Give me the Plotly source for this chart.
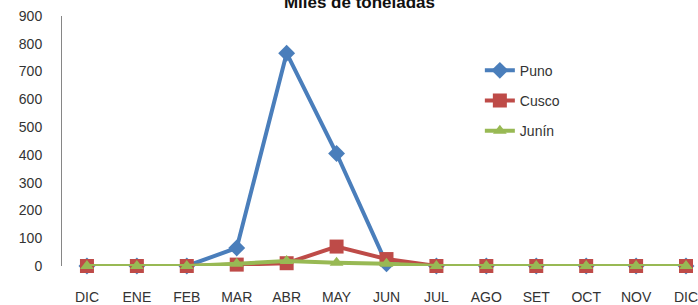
import plotly.graph_objects as go

months = ["DIC", "ENE", "FEB", "MAR", "ABR", "MAY", "JUN", "JUL", "AGO", "SET", "OCT", "NOV", "DIC"]
puno = [0, 0, 0, 65, 766, 405, 8, 0, 0, 0, 0, 0, 0]
cusco = [0, 0, 0, 5, 10, 70, 25, 0, 0, 0, 0, 0, 0]
junin = [0, 0, 0, 8, 18, 12, 8, 0, 0, 0, 0, 0, 0]
yticks = [0, 100, 200, 300, 400, 500, 600, 700, 800, 900]

xpos = list(range(len(months)))

fig = go.Figure()
fig.add_trace(go.Scatter(x=xpos, y=puno, name="Puno", mode="lines+markers",
                         line=dict(color="#4A7EBB", width=4),
                         marker=dict(symbol="diamond", size=13, color="#4A7EBB"),
                         legendgroup="a", cliponaxis=False))
fig.add_trace(go.Scatter(x=xpos, y=cusco, name="Cusco", mode="lines+markers",
                         line=dict(color="#BE4B48", width=4),
                         marker=dict(symbol="square", size=14, color="#BE4B48"),
                         legendgroup="b", cliponaxis=False))
fig.add_trace(go.Scatter(x=xpos, y=junin, name="Junín", mode="lines+markers",
                         line=dict(color="#98B954", width=4),
                         marker=dict(symbol="triangle-up", size=12, color="#98B954"),
                         legendgroup="c", cliponaxis=False))

fig.update_layout(
    width=698, height=305,
    margin=dict(l=62, r=0, t=16, b=39),
    paper_bgcolor="white", plot_bgcolor="white",
    font=dict(family="Arial, Liberation Sans, sans-serif", size=14, color="#333333"),
    title=dict(text="<b>Miles de toneladas</b>", x=0.515, xanchor="center",
               y=1.0, yanchor="top", yref="container", pad=dict(t=-4),
               font=dict(size=17, color="#111111")),
    showlegend=True,
    legend=dict(x=0.657, y=0.845, xanchor="left", yanchor="top",
                bgcolor="rgba(0,0,0,0)", tracegroupgap=9,
                font=dict(size=14, color="#333333")),
    xaxis=dict(tickmode="array", tickvals=xpos, ticktext=months,
               range=[-0.5, 12.24], showgrid=False, zeroline=False,
               showline=False, ticks="outside", ticklen=18, tickcolor="rgba(0,0,0,0)",
               automargin=False, ticklabeloverflow="allow", tickfont=dict(size=14)),
    yaxis=dict(tickmode="array", tickvals=yticks, range=[0, 900],
               showgrid=False, zeroline=False, showline=True,
               linecolor="#868686", linewidth=1, ticks="outside", ticklen=16,
               tickcolor="rgba(0,0,0,0)", automargin=False,
               tickfont=dict(size=14)),
)

fig.write_html("out.html", config={"displayModeBar": False},
               post_script="document.body.style.margin='0';document.body.style.overflow='hidden';")
